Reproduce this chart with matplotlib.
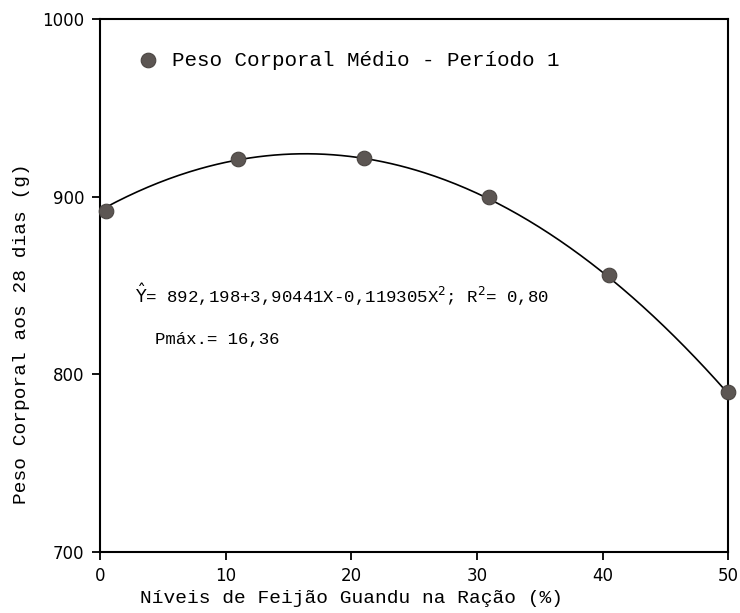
import numpy as np
import matplotlib
matplotlib.use("Agg")
import matplotlib.pyplot as plt

# Data
levels = [0.5, 11, 21, 31, 40.5, 50]
weights = [892, 921, 922, 900, 856, 790]
# regression coefficients shown on the chart (b0, b1, b2)
coefs = [892.198, 3.90441, -0.119305]
x_ticks = [0, 10, 20, 30, 40, 50]
y_ticks = [700, 800, 900, 1000]

mono = "Liberation Mono"

fig = plt.figure(figsize=(7.4, 6.13), dpi=100)
ax = fig.add_axes([0.135, 0.0995, 0.849, 0.8695])

xs = np.linspace(levels[0], levels[-1], 300)
ys = coefs[0] + coefs[1] * xs + coefs[2] * xs ** 2
ax.plot(xs, ys, color="black", lw=1.2, zorder=2)
ax.plot(levels, weights, "o", ms=10.5, color="#5c5653", mec="#4a4542", mew=0.8,
        zorder=3, clip_on=False)

ax.set_xlim(0, 50)
ax.set_ylim(700, 1000)
ax.set_xticks(x_ticks)
ax.set_yticks(y_ticks)
for sp in ax.spines.values():
    sp.set_linewidth(1.5)
    sp.set_color("black")
ax.tick_params(direction="out", length=6, width=1.3, pad=5, labelsize=12)
for lab in ax.get_xticklabels() + ax.get_yticklabels():
    lab.set_family("DejaVu Sans")

ax.set_xlabel("Níveis de Feijão Guandu na Ração (%)", family=mono, fontsize=14)
ax.xaxis.set_label_coords(0.40, -0.072)
ax.set_ylabel("Peso Corporal aos 28 dias (g)", family=mono, fontsize=14)
ax.yaxis.set_label_coords(-0.112, 0.41)

# legend-like entry
ax.plot([0.077], [0.923], "o", ms=10.5, color="#5c5653", mec="#4a4542", mew=0.8,
        transform=ax.transAxes, clip_on=False)
ax.text(0.115, 0.923, "Peso Corporal Médio - Período 1", transform=ax.transAxes,
        family=mono, fontsize=15, va="center", ha="left")

ax.text(0.056, 0.482, r"$\hat{\mathrm{Y}}$= 892,198+3,90441X-0,119305X$^2$; R$^2$= 0,80",
        transform=ax.transAxes, family=mono, fontsize=12.5, va="center", ha="left")
ax.text(0.088, 0.398, "Pmáx.= 16,36", transform=ax.transAxes,
        family=mono, fontsize=12.5, va="center", ha="left")

fig.savefig("out.png", dpi=100)
